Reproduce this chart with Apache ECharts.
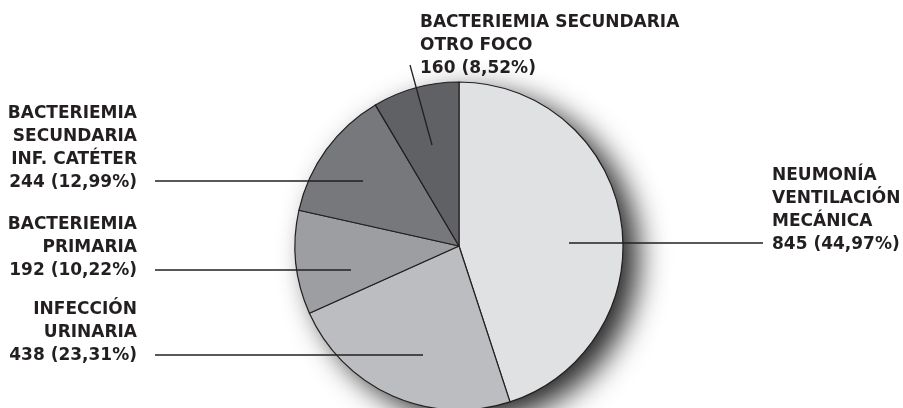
<!DOCTYPE html>
<html>
<head>
<meta charset="utf-8">
<script src="https://cdn.jsdelivr.net/npm/echarts@6/dist/echarts.min.js"></script>
<style>
  html, body { margin: 0; padding: 0; background: #ffffff; }
  #chart { width: 903px; height: 408px; }
</style>
</head>
<body>
<div id="chart"></div>
<script>
// ---- Data ----
const categories = [
  'NEUMONÍA\nVENTILACIÓN\nMECÁNICA',
  'INFECCIÓN\nURINARIA',
  'BACTERIEMIA\nPRIMARIA',
  'BACTERIEMIA\nSECUNDARIA\nINF. CATÉTER',
  'BACTERIEMIA SECUNDARIA\nOTRO FOCO'
];
const values = [845, 438, 192, 244, 160];
const percentLabels = ['44,97%', '23,31%', '10,22%', '12,99%', '8,52%'];

// ---- Styling / layout (kept separate from data) ----
const sliceColors = ['#e0e1e3', '#bcbdc0', '#9d9ea1', '#77787b', '#606164'];
const pieCenter = [459, 246];
const pieRadius = 164;
const labelLayouts = [
  { x: 772, y: 256, align: 'left',  line: [[569, 243], [763, 243]] },
  { x: 137, y: 367, align: 'right', line: [[423, 355], [155, 355]] },
  { x: 137, y: 282, align: 'right', line: [[351, 270], [155, 270]] },
  { x: 137, y: 194, align: 'right', line: [[363, 181], [155, 181]] },
  { x: 420, y: 80,  align: 'left',  line: [[432, 145], [410, 65]] }
];

const total = values.reduce((a, b) => a + b, 0);
const inkColor = '#231f20';

const chart = echarts.init(document.getElementById('chart'), null, { renderer: 'canvas' });

const seriesData = categories.map((name, i) => ({
  name: name,
  value: values[i],
  itemStyle: { color: sliceColors[i] }
}));

chart.setOption({
  backgroundColor: '#ffffff',
  animation: false,
  series: [
    {
      // backing disc that casts the soft drop shadow
      type: 'pie',
      silent: true,
      z: 1,
      center: pieCenter,
      radius: pieRadius,
      startAngle: 90,
      label: { show: false },
      labelLine: { show: false },
      itemStyle: {
        color: '#9a9b9e',
        shadowBlur: 30,
        shadowOffsetX: 15,
        shadowOffsetY: 11,
        shadowColor: 'rgba(0,0,0,0.85)'
      },
      data: [{ value: total, name: 'total' }]
    },
    {
      // the slices
      type: 'pie',
      z: 2,
      center: pieCenter,
      radius: pieRadius,
      startAngle: 90,
      clockwise: true,
      itemStyle: { borderColor: inkColor, borderWidth: 1.2 },
      label: { show: false },
      labelLine: { show: false },
      data: seriesData
    },
    {
      // labels and leader lines, drawn above the slices
      type: 'pie',
      z: 3,
      silent: true,
      center: pieCenter,
      radius: pieRadius,
      startAngle: 90,
      clockwise: true,
      avoidLabelOverlap: false,
      itemStyle: { color: 'rgba(0,0,0,0)', borderWidth: 0 },
      label: {
        show: true,
        position: 'outside',
        fontFamily: 'DejaVu Sans',
        fontWeight: 'bold',
        fontSize: 17,
        lineHeight: 23,
        color: inkColor,
        formatter: p => p.name + '\n' + p.value + ' (' + percentLabels[p.dataIndex] + ')'
      },
      labelLine: {
        show: true,
        lineStyle: { color: inkColor, width: 1.3 }
      },
      labelLayout: params => {
        const L = labelLayouts[params.dataIndex];
        return {
          x: L.x,
          y: L.y,
          align: L.align,
          verticalAlign: 'bottom',
          labelLinePoints: L.line
        };
      },
      data: categories.map((name, i) => ({ name: name, value: values[i] }))
    }
  ]
});
</script>
</body>
</html>
